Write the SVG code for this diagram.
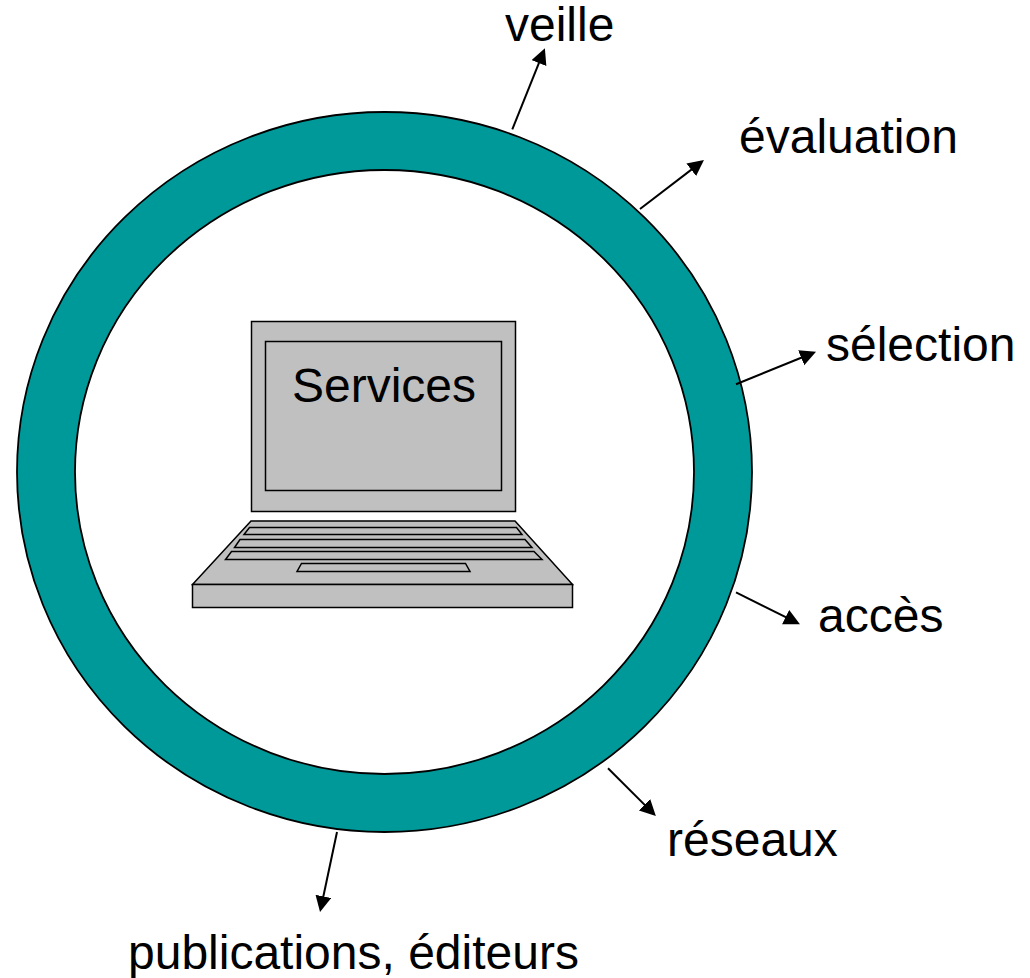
<svg xmlns="http://www.w3.org/2000/svg" width="1030" height="978" viewBox="0 0 1030 978">
<style>
text{font-family:"Liberation Sans",Arial,sans-serif;font-size:48px;fill:#000}
.l{fill:#c0c0c0;stroke:#000;stroke-width:1.5;stroke-linejoin:miter}
.c{fill:none;stroke:#000;stroke-width:2}
</style>
<defs><marker id="a" markerUnits="userSpaceOnUse" markerWidth="18" markerHeight="18" refX="8" refY="8" orient="auto"><path d="M0 0L16 8L0 16Z" fill="#000"/></marker></defs>
<rect width="1030" height="978" fill="#fff"/>
<g id="ring">
<path fill="#009999" fill-rule="evenodd" stroke="#000" stroke-width="1.8" d="M17 472A367.5 360 0 1 1 752 472A367.5 360 0 1 1 17 472ZM75 472A309.5 302 0 1 0 694 472A309.5 302 0 1 0 75 472Z"/>
</g>
<g id="laptop">
<rect class="l" x="251.500" y="321.500" width="264" height="190"/>
<rect class="l" x="265.500" y="341.500" width="236" height="149"/>
<path class="l" d="M251 521H515L572.500 584.500H192.500Z"/>
<rect class="l" x="192.500" y="584.500" width="380" height="23"/>
<path class="l" d="M249.500 527.500H516.500L522 534.500H244Z"/>
<path class="l" d="M240 539.500H525L532 547.500H234.500Z"/>
<path class="l" d="M231.500 551.500H534L542 559.500H225.500Z"/>
<path class="l" d="M301.500 563.500H465.500L470 571.500H297Z"/>
<text id="services" x="292" y="401.500">Services</text>
</g>
<g id="connectors">
<path class="c" marker-end="url(#a)" d="M512.300 129.300L541.900 55.700"/>
<path class="c" marker-end="url(#a)" d="M640 209L697.600 164.900"/>
<path class="c" marker-end="url(#a)" d="M736 384.300L808.600 354.700"/>
<path class="c" marker-end="url(#a)" d="M736 592.300L792.800 620.700"/>
<path class="c" marker-end="url(#a)" d="M608 768.300L650.200 810.400"/>
<path class="c" marker-end="url(#a)" d="M337 832L321.700 904.200"/>
</g>
<g id="labels">
<text id="veille" x="505" y="41">veille</text>
<text id="evaluation" x="739" y="153">évaluation</text>
<text id="selection" x="826" y="361">sélection</text>
<text id="acces" x="818" y="632">accès</text>
<text id="reseaux" x="667" y="856">réseaux</text>
<text id="publications" x="128" y="969">publications, éditeurs</text>
</g>
</svg>
